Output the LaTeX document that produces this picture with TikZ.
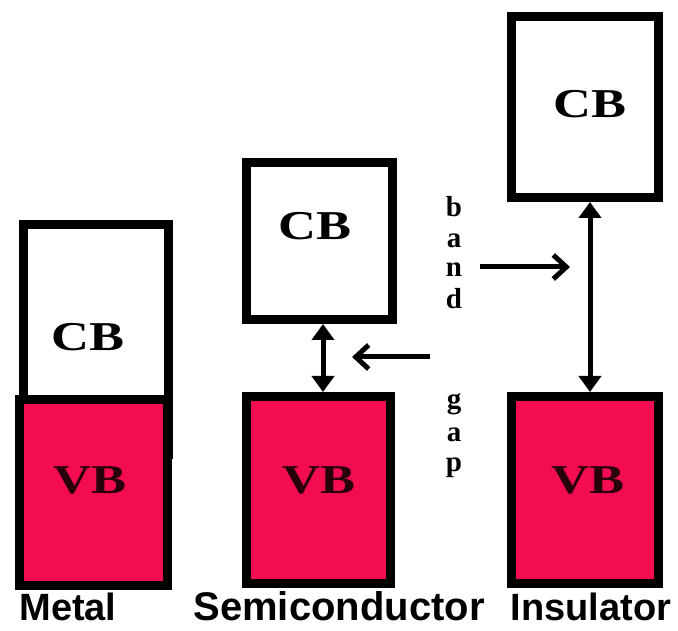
\documentclass[tikz,border=0pt]{standalone}
\usepackage{fontspec}
\setmainfont{Liberation Serif}
\newfontfamily\lsans{Liberation Sans}
\usetikzlibrary{arrows.meta}
\definecolor{vbred}{RGB}{243,12,80}
\definecolor{vbtext}{RGB}{40,0,12}
\begin{document}
\begin{tikzpicture}[x=1pt,y=1pt,
  band/.style={draw=black, line width=9pt, inner sep=0pt, rectangle},
  cbbox/.style={band, fill=white},
  vbbox/.style={band, fill=vbred},
  bandtext/.style={font=\bfseries\fontsize{41}{41}\selectfont, inner sep=0pt},
  gaptext/.style={font=\bfseries\fontsize{29}{29}\selectfont, anchor=base, inner sep=0pt},
  lbl/.style={font=\lsans\bfseries\fontsize{38}{38}\selectfont, anchor=base, inner sep=0pt},
  dbl/.style={line width=5pt, {Triangle[length=16pt,width=22pt]}-{Triangle[length=16pt,width=22pt]}},
  pointer/.style={line width=5pt, -{Straight Barb[length=13pt,width=24pt]}}
]
\useasboundingbox (0,0) rectangle (678,631);
\fill[white] (0,0) rectangle (678,631);

% Metal
\node[cbbox, minimum width=145pt, minimum height=230.5pt] (mcb) at (96,291.25) {};
\node[vbbox, minimum width=148pt, minimum height=186pt] (mvb) at (93.5,138.5) {};
% Semiconductor
\node[cbbox, minimum width=146pt, minimum height=157pt] (scb) at (319.5,390) {};
\node[vbbox, minimum width=144pt, minimum height=187pt] (svb) at (318.5,141) {};
% Insulator
\node[cbbox, minimum width=147pt, minimum height=181pt] (icb) at (585,524) {};
\node[vbbox, minimum width=147pt, minimum height=187pt] (ivb) at (585,141) {};

% band labels
\node[bandtext] (mcbt) at (88,294) {\scalebox{1.28}[1]{CB}};
\node[bandtext, text=vbtext] (mvbt) at (90,151) {\scalebox{1.28}[1]{VB}};
\node[bandtext] (scbt) at (315,405) {\scalebox{1.28}[1]{CB}};
\node[bandtext, text=vbtext] (svbt) at (319,151) {\scalebox{1.28}[1]{VB}};
\node[bandtext] (icbt) at (590,527) {\scalebox{1.28}[1]{CB}};
\node[bandtext, text=vbtext] (ivbt) at (588,151) {\scalebox{1.28}[1]{VB}};

% gap arrows
\draw[dbl] ([xshift=3.5pt]scb.south) -- ([xshift=4.5pt]svb.north);
\draw[dbl] ([xshift=5pt]icb.south) -- ([xshift=5pt]ivb.north);

% pointers
\coordinate (la) at (430,274);
\coordinate (lb) at (352,274);
\coordinate (ra) at (480,364);
\coordinate (rb) at (570,364);
\draw[pointer] (la) -- (lb);
\draw[pointer] (ra) -- (rb);

% band gap vertical text
\node[gaptext] (g1) at (454,414) {b};
\node[gaptext] (g2) at (454,383) {a};
\node[gaptext] (g3) at (454,354) {n};
\node[gaptext] (g4) at (454,322) {d};
\node[gaptext] (g5) at (454,222) {g};
\node[gaptext] (g6) at (454,189) {a};
\node[gaptext] (g7) at (454,159) {p};

% material labels
\node[lbl] (lm) at (68,10) {Metal};
\node[lbl, font=\lsans\bfseries\fontsize{40}{40}\selectfont] (ls) at (339,10) {Semiconductor};
\node[lbl] (li) at (591,10) {Insulator};
\end{tikzpicture}
\end{document}
